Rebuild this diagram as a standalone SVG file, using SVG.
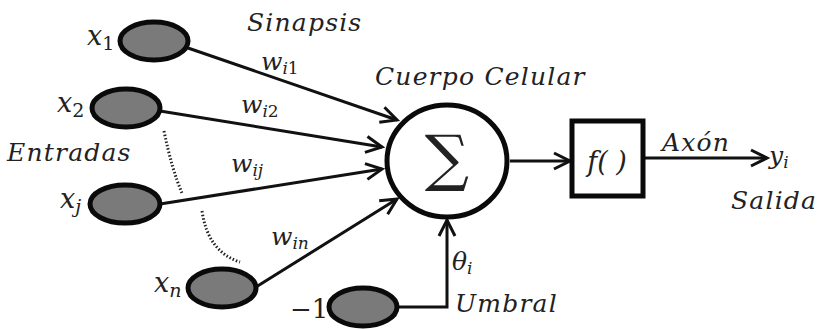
<svg xmlns="http://www.w3.org/2000/svg" width="819" height="329" viewBox="0 0 819 329">
<defs>
<marker id="arr" markerUnits="userSpaceOnUse" markerWidth="24" markerHeight="24" viewBox="-2 -2 24 24" refX="18" refY="10" orient="auto">
<path d="M2,2 L18,10 L2,18" fill="none" stroke="#111" stroke-width="3"/>
</marker>
</defs>
<style>
.in{fill:#7a7a7a;stroke:#0a0a0a;stroke-width:5}
.ln{fill:none;stroke:#111;stroke-width:3}
.t{font-family:"DejaVu Serif","Liberation Serif",serif;font-style:italic;fill:#222}
.lbl{font-size:25px;letter-spacing:1.2px}
.up{font-style:normal}
.dot{fill:none;stroke:#222;stroke-width:3;stroke-dasharray:1.5 2}
</style>
<rect width="819" height="329" fill="#fff"/>
<g id="connectors">
<line class="ln" x1="188" y1="48" x2="397" y2="120" marker-end="url(#arr)"/>
<line class="ln" x1="160" y1="111" x2="382" y2="147" marker-end="url(#arr)"/>
<line class="ln" x1="160" y1="204" x2="382" y2="169" marker-end="url(#arr)"/>
<line class="ln" x1="256" y1="287" x2="397" y2="199" marker-end="url(#arr)"/>
<path class="ln" d="M396,307 H447 V220" marker-end="url(#arr)"/>
<line class="ln" x1="510" y1="161" x2="570" y2="161" marker-end="url(#arr)"/>
<line class="ln" x1="645" y1="158" x2="767" y2="158" marker-end="url(#arr)"/>
<path class="dot" d="M164,131 Q172,170 182,193"/>
<path class="dot" d="M202,211 Q208,252 240,262"/>
</g>
<g id="x1"><ellipse class="in" cx="154" cy="41" rx="34" ry="19"/>
<text class="t" font-size="27" x="87" y="45">x<tspan class="up" font-size="19" dy="5">1</tspan></text></g>
<g id="x2"><ellipse class="in" cx="126" cy="108" rx="34" ry="19"/>
<text class="t" font-size="27" x="57" y="112">x<tspan class="up" font-size="19" dy="5">2</tspan></text></g>
<g id="xj"><ellipse class="in" cx="125" cy="204" rx="35" ry="19"/>
<text class="t" font-size="27" x="60" y="208">x<tspan font-size="19" dy="5">j</tspan></text></g>
<g id="xn"><ellipse class="in" cx="222" cy="288" rx="34" ry="19"/>
<text class="t" font-size="27" x="154" y="292">x<tspan font-size="19" dy="5">n</tspan></text></g>
<g id="bias"><ellipse class="in" cx="363" cy="307" rx="34" ry="19"/>
<text class="t up" font-size="26" x="290" y="318">−1</text></g>
<g id="sum"><ellipse cx="447" cy="161" rx="60" ry="56" fill="#fff" stroke="#0a0a0a" stroke-width="5"/>
<text x="447" y="179" text-anchor="middle" font-family="DejaVu Serif,serif" font-size="62" fill="#222">∑</text></g>
<g id="f"><rect x="572" y="121" width="71" height="75" fill="#fff" stroke="#0a0a0a" stroke-width="5"/>
<text class="t" font-size="27" x="607" y="171" text-anchor="middle">f( )</text></g>
<g id="labels">
<text class="t lbl" x="247" y="31">Sinapsis</text>
<text class="t" font-size="25" x="261" y="70">w<tspan font-size="17" dy="4">i</tspan><tspan class="up" font-size="17">1</tspan></text>
<text class="t" font-size="25" x="241" y="113">w<tspan font-size="17" dy="4">i</tspan><tspan class="up" font-size="17">2</tspan></text>
<text class="t" font-size="25" x="231" y="172">w<tspan font-size="17" dy="4">ij</tspan></text>
<text class="t" font-size="25" x="271" y="245">w<tspan font-size="17" dy="4">in</tspan></text>
<text class="t lbl" x="7" y="161">Entradas</text>
<text class="t lbl" x="375" y="85">Cuerpo Celular</text>
<text class="t" font-size="25" x="452" y="270">θ<tspan font-size="17" dy="4">i</tspan></text>
<text class="t lbl" x="455" y="312">Umbral</text>
<text class="t lbl" x="662" y="151">Axón</text>
<text class="t" font-size="25" x="769" y="164">y<tspan font-size="17" dy="4">i</tspan></text>
<text class="t lbl" x="731" y="209">Salida</text>
</g>
</svg>
